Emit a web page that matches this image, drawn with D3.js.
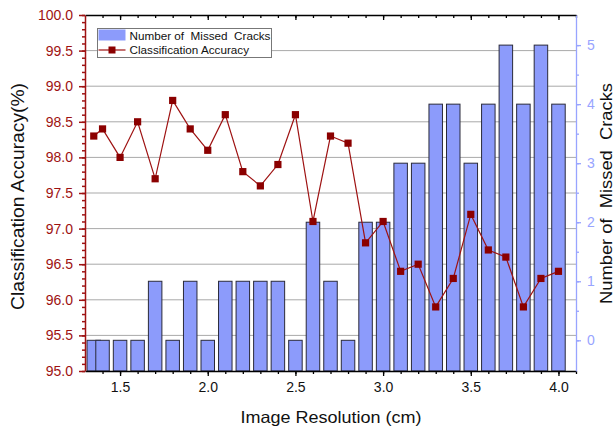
<!DOCTYPE html>
<html>
<head>
<meta charset="utf-8">
<script src="https://cdn.jsdelivr.net/npm/d3@7"></script>
<style>
  body { margin: 0; background: #fff; }
  text { font-family: "Liberation Sans", Arial, sans-serif; }
</style>
</head>
<body>
<div class="chart"></div>
<script>
var svgWidth = 616;
var svgHeight = 429;

// data
var resolution = [1.35, 1.4, 1.5, 1.6, 1.7, 1.8, 1.9, 2.0, 2.1, 2.2, 2.3, 2.4, 2.5, 2.6,
  2.7, 2.8, 2.9, 3.0, 3.1, 3.2, 3.3, 3.4, 3.5, 3.6, 3.7, 3.8, 3.9, 4.0];
var missedCracks = [0, 0, 0, 0, 1, 0, 1, 0, 1, 1, 1, 1, 0, 2,
  1, 0, 2, 2, 3, 3, 4, 4, 3, 4, 5, 4, 5, 4];
var accuracy = [98.3, 98.4, 98.0, 98.5, 97.7, 98.8, 98.4, 98.1, 98.6, 97.8, 97.6, 97.9, 98.6, 97.1,
  98.3, 98.2, 96.8, 97.1, 96.4, 96.5, 95.9, 96.3, 97.2, 96.7, 96.6, 95.9, 96.3, 96.4];
var xTicks = [1.5, 2.0, 2.5, 3.0, 3.5, 4.0];
var leftTicks = [95.0, 95.5, 96.0, 96.5, 97.0, 97.5, 98.0, 98.5, 99.0, 99.5, 100.0];
var rightTicks = [0, 1, 2, 3, 4, 5];
var legendLabels = ["Number of  Missed  Cracks", "Classification Accuracy"];

var margin = { top: 15, right: 40, bottom: 58, left: 85 };
var width = 576 - margin.left;
var height = 371 - margin.top;

var red = "#9e1212";
var blue = "#98a4ff";
var barFill = "#8c9bfb";

var svg = d3.select(".chart")
  .append("svg")
  .attr("width", svgWidth)
  .attr("height", svgHeight);

var chartGroup = svg.append("g")
  .attr("transform", `translate(${margin.left}, ${margin.top})`);

var xScale = d3.scaleLinear().domain([1.3, 4.1]).range([0, width]);
var yLeft = d3.scaleLinear().domain([95, 100]).range([height, 0]);
var yRight = d3.scaleLinear().domain([-0.52, 5.51]).range([height, 0]);

// grid lines
chartGroup.append("g")
  .selectAll("line")
  .data(leftTicks.filter(d => d > 95 && d < 100))
  .enter()
  .append("line")
  .attr("x1", 0)
  .attr("x2", width)
  .attr("y1", d => yLeft(d))
  .attr("y2", d => yLeft(d))
  .attr("stroke", "#a9a9a9")
  .attr("stroke-width", 1);

// bars
var barW = xScale(1.3 + 0.077) - xScale(1.3);
chartGroup.append("g")
  .selectAll("rect")
  .data(resolution)
  .enter()
  .append("rect")
  .attr("x", d => Math.max(0, xScale(d) - barW / 2))
  .attr("width", d => xScale(d) + barW / 2 - Math.max(0, xScale(d) - barW / 2))
  .attr("y", (d, i) => yRight(missedCracks[i]))
  .attr("height", (d, i) => height - yRight(missedCracks[i]))
  .attr("fill", barFill)
  .attr("stroke", "#2a2a3a")
  .attr("stroke-width", 1);

// accuracy line
var line = d3.line()
  .x((d, i) => xScale(resolution[i]))
  .y(d => yLeft(d));

chartGroup.append("path")
  .datum(accuracy)
  .attr("d", line)
  .attr("fill", "none")
  .attr("stroke", red)
  .attr("stroke-width", 1.2);

chartGroup.append("g")
  .selectAll("rect")
  .data(accuracy)
  .enter()
  .append("rect")
  .attr("x", (d, i) => xScale(resolution[i]) - 3.6)
  .attr("y", d => yLeft(d) - 3.6)
  .attr("width", 7.2)
  .attr("height", 7.2)
  .attr("fill", "#8b0000");

// minor tick values
var xMinor = d3.range(14, 42).map(d => d / 10);
var leftMinor = d3.range(950, 1001).map(d => d / 10);
var rightMinor = d3.range(0, 11).map(d => d / 2);

// bottom axis
var bottomAxis = chartGroup.append("g")
  .attr("transform", `translate(0, ${height})`);
bottomAxis.append("g")
  .call(d3.axisBottom(xScale).tickValues(xMinor).tickSize(3).tickFormat(""))
  .call(g => g.select(".domain").remove());
bottomAxis.append("g")
  .call(d3.axisBottom(xScale).tickValues(xTicks).tickSize(5).tickSizeOuter(0).tickPadding(6)
    .tickFormat(d3.format(".1f")));
bottomAxis.selectAll("path, line").attr("stroke", "#000").attr("stroke-width", 1.3);
bottomAxis.selectAll("text").attr("font-size", "14px").attr("fill", "#111");

// top axis
var topAxis = chartGroup.append("g");
topAxis.append("g")
  .call(d3.axisBottom(xScale).tickValues(xMinor).tickSize(3).tickFormat(""))
  .call(g => g.select(".domain").remove());
topAxis.append("g")
  .call(d3.axisBottom(xScale).tickValues(xTicks).tickSize(5).tickSizeOuter(0).tickFormat(""));
topAxis.selectAll("path, line").attr("stroke", "#000").attr("stroke-width", 1.3);

// left axis
var leftAxis = chartGroup.append("g");
leftAxis.append("g")
  .call(d3.axisLeft(yLeft).tickValues(leftMinor).tickSize(3).tickFormat(""))
  .call(g => g.select(".domain").remove());
leftAxis.append("g")
  .call(d3.axisLeft(yLeft).tickValues(leftTicks).tickSize(6).tickSizeOuter(0).tickPadding(6)
    .tickFormat(d3.format(".1f")));
leftAxis.selectAll("path, line").attr("stroke", red).attr("stroke-width", 1.5);
leftAxis.selectAll("text").attr("font-size", "14px").attr("fill", red);

// right axis
var rightAxis = chartGroup.append("g")
  .attr("transform", `translate(${width}, 0)`);
rightAxis.append("g")
  .call(d3.axisRight(yRight).tickValues(rightMinor).tickSize(3).tickFormat(""))
  .call(g => g.select(".domain").remove());
rightAxis.append("g")
  .call(d3.axisRight(yRight).tickValues(rightTicks).tickSize(5).tickSizeOuter(0).tickPadding(6)
    .tickFormat(d3.format("d")));
rightAxis.selectAll("path, line").attr("stroke", blue).attr("stroke-width", 1.3);
rightAxis.selectAll("text").attr("font-size", "14px").attr("fill", blue);

// axis titles
svg.append("text")
  .attr("x", 331)
  .attr("y", 423)
  .attr("text-anchor", "middle")
  .attr("font-size", "16.5px")
  .attr("textLength", 181)
  .attr("lengthAdjust", "spacingAndGlyphs")
  .attr("fill", "#111")
  .text("Image Resolution (cm)");

svg.append("text")
  .attr("transform", "translate(23.5, 196.5) rotate(-90)")
  .attr("text-anchor", "middle")
  .attr("font-size", "17.5px")
  .attr("textLength", 227)
  .attr("lengthAdjust", "spacingAndGlyphs")
  .attr("fill", "#111")
  .text("Classification Accuracy(%)");

svg.append("text")
  .attr("transform", "translate(611.5, 193.5) rotate(-90)")
  .attr("text-anchor", "middle")
  .attr("font-size", "17px")
  .attr("textLength", 221)
  .attr("lengthAdjust", "spacingAndGlyphs")
  .attr("fill", "#111")
  .style("white-space", "pre")
  .text("Number of  Missed  Cracks");

// legend
var legend = svg.append("g").attr("transform", "translate(97.5, 28.5)");
legend.append("rect")
  .attr("width", 174)
  .attr("height", 29)
  .attr("fill", "#fff")
  .attr("stroke", "#777")
  .attr("stroke-width", 1);
legend.append("rect")
  .attr("x", 1)
  .attr("y", 1)
  .attr("width", 27)
  .attr("height", 11)
  .attr("fill", barFill);
legend.append("line")
  .attr("x1", 1).attr("x2", 28)
  .attr("y1", 21.5).attr("y2", 21.5)
  .attr("stroke", red)
  .attr("stroke-width", 1.2);
legend.append("rect")
  .attr("x", 11).attr("y", 18)
  .attr("width", 7).attr("height", 7)
  .attr("fill", "#8b0000");
legend.selectAll("text.leg")
  .data(legendLabels)
  .enter()
  .append("text")
  .attr("class", "leg")
  .attr("x", 32)
  .attr("y", (d, i) => 11 + i * 14.5)
  .attr("font-size", "11.7px")
  .attr("fill", "#111")
  .style("white-space", "pre")
  .text(d => d);
</script>
</body>
</html>
